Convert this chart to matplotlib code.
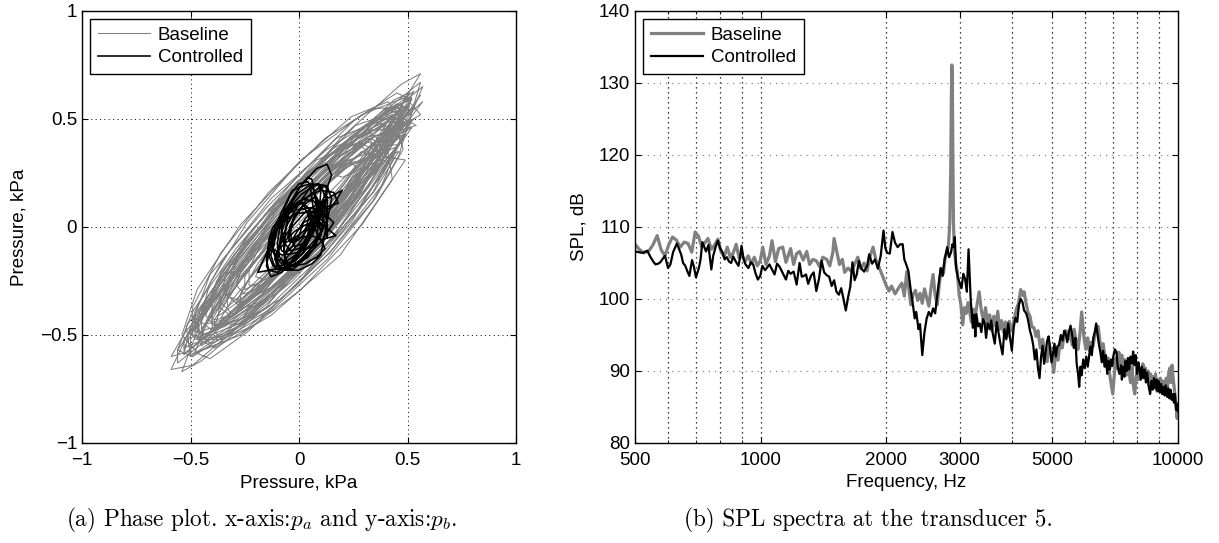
import matplotlib
matplotlib.use("Agg")
import matplotlib.pyplot as plt
from matplotlib.ticker import FixedLocator, FixedFormatter, NullFormatter

# ---------------- data: phase plot (kPa) ----------------
base_pa = [
 0.42, 0.35, 0.12, -0.14, -0.33, -0.43, -0.35, -0.12, 0.14, 0.33,
 0.50, 0.32, 0.01, -0.28, -0.47, -0.45, -0.26, 0.03, 0.30, 0.49,
 0.34, 0.28, 0.08, -0.12, -0.32, -0.37, -0.30, -0.14, 0.10, 0.26,
 0.53, 0.31, 0.01, -0.33, -0.51, -0.53, -0.31, -0.01, 0.33, 0.51,
 0.31, 0.25, 0.10, -0.08, -0.23, -0.29, -0.23, -0.08, 0.10, 0.25,
 0.46, 0.26, -0.02, -0.30, -0.48, -0.46, -0.28, 0.00, 0.28, 0.44,
 0.54, 0.45, 0.17, -0.15, -0.41, -0.51, -0.39, -0.13, 0.19, 0.43,
 0.39, 0.23, 0.01, -0.25, -0.37, -0.39, -0.23, -0.01, 0.25, 0.37,
 0.56, 0.47, 0.19, -0.17, -0.45, -0.54, -0.45, -0.15, 0.17, 0.47,
 0.42, 0.24, -0.03, -0.28, -0.46, -0.44, -0.30, -0.01, 0.26, 0.40,
 0.34, 0.28, 0.11, -0.11, -0.28, -0.34, -0.28, -0.11, 0.11, 0.28,
 0.51, 0.30, 0.03, -0.28, -0.47, -0.45, -0.26, 0.01, 0.32, 0.49,
 0.43, 0.35, 0.13, -0.15, -0.37, -0.45, -0.37, -0.15, 0.13, 0.35,
 0.52, 0.33, -0.01, -0.31, -0.52, -0.50, -0.33, 0.01, 0.31, 0.52,
 0.39, 0.32, 0.13, -0.11, -0.30, -0.37, -0.30, -0.11, 0.13, 0.32,
 0.51, 0.41, 0.13, -0.21, -0.49, -0.59, -0.49, -0.21, 0.13, 0.41,
 0.25, 0.15, 0.00, -0.15, -0.25, -0.25, -0.15, 0.00, 0.15, 0.25,
 0.47, 0.38, 0.15, -0.13, -0.36, -0.45, -0.36, -0.13, 0.15, 0.38,
 0.57, 0.36, 0.02, -0.32, -0.53, -0.53, -0.32, 0.02, 0.36, 0.57,
 0.40, 0.32, 0.12, -0.12, -0.32, -0.40, -0.32, -0.12, 0.12, 0.32,
 0.48, 0.42, 0.24, 0.00, -0.24, -0.42, -0.48, -0.42, -0.24, 0.00, 0.24, 0.42,
 0.33, 0.23, 0.07, -0.11, -0.27, -0.37, -0.37, -0.27, -0.11, 0.07, 0.23, 0.33,
 0.56, 0.49, 0.29, 0.01, -0.27, -0.47, -0.54, -0.47, -0.27, 0.01, 0.29, 0.49,
 0.31, 0.23, 0.10, -0.06, -0.19, -0.27, -0.27, -0.19, -0.06, 0.10, 0.23, 0.31,
 0.51, 0.44, 0.25, -0.01, -0.27, -0.46, -0.53, -0.46, -0.27, -0.01, 0.25, 0.44,
 0.46, 0.34, 0.14, -0.08, -0.28, -0.40, -0.40, -0.28, -0.08, 0.14, 0.34, 0.46,
 0.56, 0.41, 0.15, -0.15, -0.41, -0.56, -0.56, -0.41, -0.15, 0.15, 0.41, 0.56,
 0.37, 0.32, 0.17, -0.03, -0.23, -0.38, -0.43, -0.38, -0.23, -0.03, 0.17, 0.32,
 0.52, 0.45, 0.27, 0.02, -0.23, -0.41, -0.48, -0.41, -0.23, 0.02, 0.27, 0.45,
 0.23, 0.17, 0.06, -0.06, -0.17, -0.23, -0.23, -0.17, -0.06, 0.06, 0.17, 0.23,
 0.43, 0.32, 0.11, -0.13, -0.34, -0.45, -0.45, -0.34, -0.13, 0.11, 0.32, 0.43,
 0.53, 0.46, 0.25, -0.03, -0.31, -0.52, -0.59, -0.52, -0.31, -0.03, 0.25, 0.46,
 0.35, 0.30, 0.18, 0.01, -0.16, -0.28, -0.33, -0.28, -0.16, 0.01, 0.18, 0.30,
 0.48, 0.35, 0.13, -0.13, -0.35, -0.48, -0.48, -0.35, -0.13, 0.13, 0.35, 0.48,
 0.43, 0.32, 0.13, -0.09, -0.28, -0.39, -0.39, -0.28, -0.09, 0.13, 0.32, 0.43,
 0.27, 0.23, 0.13, -0.01, -0.15, -0.25, -0.29, -0.25, -0.15, -0.01, 0.13, 0.23,
 0.52, 0.39, 0.15, -0.13, -0.37, -0.50, -0.50, -0.37, -0.13, 0.15, 0.39, 0.52,
 0.40, 0.35, 0.21, 0.02, -0.17, -0.31, -0.36, -0.31, -0.17, 0.02, 0.21, 0.35,
 0.47, 0.41, 0.24, 0.00, -0.24, -0.41, -0.47, -0.41, -0.24, 0.00, 0.24, 0.41,
 0.29, 0.21, 0.06, -0.10, -0.25, -0.33, -0.33, -0.25, -0.10, 0.06, 0.21, 0.29,
 0.52, 0.45, 0.25, -0.02, -0.29, -0.49, -0.56, -0.49, -0.29, -0.02, 0.25, 0.45,
 0.46, 0.35, 0.15, -0.09, -0.29, -0.40, -0.40, -0.29, -0.09, 0.15, 0.35, 0.46,
 0.20, 0.17, 0.10, 0.00, -0.10, -0.17, -0.20, -0.17, -0.10, 0.00, 0.10, 0.17,
 0.47, 0.34, 0.12, -0.14, -0.36, -0.49, -0.49, -0.36, -0.14, 0.12, 0.34, 0.47,
]
base_pb = [
 0.45, 0.42, 0.26, -0.03, -0.29, -0.45, -0.43, -0.24, 0.03, 0.30,
 0.56, 0.45, 0.20, -0.15, -0.41, -0.54, -0.45, -0.16, 0.17, 0.43,
 0.36, 0.39, 0.31, 0.07, -0.17, -0.34, -0.41, -0.29, -0.09, 0.17,
 0.63, 0.45, 0.14, -0.26, -0.50, -0.59, -0.41, -0.10, 0.30, 0.54,
 0.31, 0.30, 0.17, -0.04, -0.24, -0.35, -0.34, -0.21, 0.00, 0.20,
 0.54, 0.47, 0.18, -0.13, -0.42, -0.52, -0.45, -0.18, 0.15, 0.44,
 0.47, 0.52, 0.41, 0.09, -0.22, -0.49, -0.56, -0.41, -0.13, 0.22,
 0.47, 0.32, 0.09, -0.21, -0.40, -0.47, -0.32, -0.07, 0.21, 0.40,
 0.71, 0.66, 0.41, -0.03, -0.43, -0.67, -0.62, -0.37, 0.05, 0.47,
 0.49, 0.39, 0.17, -0.16, -0.39, -0.51, -0.41, -0.19, 0.14, 0.37,
 0.33, 0.38, 0.29, 0.09, -0.14, -0.31, -0.36, -0.27, -0.07, 0.16,
 0.57, 0.40, 0.11, -0.24, -0.51, -0.55, -0.42, -0.09, 0.26, 0.49,
 0.44, 0.42, 0.24, -0.04, -0.32, -0.48, -0.46, -0.28, 0.00, 0.28,
 0.60, 0.48, 0.21, -0.17, -0.46, -0.60, -0.48, -0.19, 0.17, 0.46,
 0.39, 0.44, 0.33, 0.10, -0.17, -0.37, -0.42, -0.31, -0.08, 0.19,
 0.56, 0.54, 0.29, -0.08, -0.45, -0.66, -0.64, -0.40, -0.02, 0.35,
 0.29, 0.24, 0.10, -0.08, -0.23, -0.29, -0.24, -0.10, 0.08, 0.23,
 0.42, 0.48, 0.36, 0.09, -0.21, -0.44, -0.51, -0.38, -0.11, 0.19,
 0.65, 0.48, 0.14, -0.24, -0.52, -0.59, -0.42, -0.08, 0.30, 0.58,
 0.43, 0.42, 0.24, -0.02, -0.28, -0.43, -0.42, -0.24, 0.02, 0.28,
 0.52, 0.54, 0.42, 0.20, -0.07, -0.32, -0.48, -0.50, -0.38, -0.16, 0.11, 0.36,
 0.41, 0.34, 0.18, -0.04, -0.24, -0.38, -0.41, -0.34, -0.18, 0.04, 0.24, 0.38,
 0.52, 0.60, 0.52, 0.31, 0.01, -0.29, -0.50, -0.58, -0.50, -0.29, 0.01, 0.31,
 0.34, 0.31, 0.19, 0.01, -0.17, -0.31, -0.38, -0.35, -0.23, -0.05, 0.13, 0.28,
 0.62, 0.59, 0.41, 0.13, -0.17, -0.43, -0.56, -0.53, -0.35, -0.07, 0.23, 0.49,
 0.45, 0.45, 0.33, 0.12, -0.12, -0.33, -0.45, -0.45, -0.33, -0.12, 0.12, 0.33,
 0.67, 0.55, 0.30, -0.04, -0.35, -0.57, -0.63, -0.51, -0.26, 0.08, 0.39, 0.61,
 0.35, 0.41, 0.35, 0.19, -0.03, -0.25, -0.41, -0.47, -0.41, -0.25, -0.03, 0.19,
 0.54, 0.57, 0.44, 0.19, -0.12, -0.41, -0.58, -0.61, -0.48, -0.23, 0.08, 0.37,
 0.29, 0.29, 0.21, 0.08, -0.07, -0.19, -0.27, -0.27, -0.19, -0.07, 0.08, 0.21,
 0.52, 0.48, 0.31, 0.05, -0.21, -0.41, -0.50, -0.46, -0.29, -0.04, 0.23, 0.43,
 0.50, 0.48, 0.31, 0.05, -0.24, -0.48, -0.60, -0.58, -0.41, -0.15, 0.14, 0.38,
 0.38, 0.40, 0.32, 0.16, -0.03, -0.21, -0.32, -0.34, -0.26, -0.10, 0.10, 0.27,
 0.50, 0.50, 0.36, 0.13, -0.15, -0.39, -0.52, -0.52, -0.39, -0.15, 0.13, 0.36,
 0.51, 0.43, 0.23, -0.02, -0.26, -0.43, -0.47, -0.39, -0.19, 0.06, 0.31, 0.47,
 0.27, 0.31, 0.27, 0.15, 0.00, -0.15, -0.27, -0.31, -0.27, -0.15, 0.00, 0.15,
 0.59, 0.54, 0.34, 0.05, -0.25, -0.49, -0.59, -0.54, -0.34, -0.05, 0.25, 0.49,
 0.36, 0.35, 0.23, 0.04, -0.17, -0.34, -0.42, -0.41, -0.29, -0.10, 0.11, 0.28,
 0.51, 0.58, 0.51, 0.30, 0.02, -0.26, -0.47, -0.54, -0.47, -0.26, 0.02, 0.30,
 0.35, 0.28, 0.14, -0.04, -0.22, -0.33, -0.37, -0.30, -0.16, 0.02, 0.20, 0.31,
 0.59, 0.62, 0.49, 0.22, -0.10, -0.39, -0.57, -0.60, -0.47, -0.20, 0.12, 0.41,
 0.43, 0.39, 0.24, 0.02, -0.21, -0.39, -0.47, -0.43, -0.28, -0.06, 0.17, 0.35,
 0.23, 0.24, 0.18, 0.08, -0.04, -0.15, -0.23, -0.24, -0.18, -0.08, 0.04, 0.15,
 0.55, 0.55, 0.41, 0.16, -0.12, -0.37, -0.51, -0.51, -0.37, -0.12, 0.16, 0.41,
]
ctrl_pa = [
 0.12, 0.10, 0.06, 0.00, -0.06, -0.10, -0.12, -0.10, -0.06, 0.00, 0.06, 0.10,
 0.06, 0.05, 0.02, -0.02, -0.06, -0.09, -0.10, -0.09, -0.06, -0.02, 0.02, 0.05,
 0.15, 0.13, 0.08, 0.00, -0.08, -0.13, -0.15, -0.13, -0.08, 0.00, 0.08, 0.13,
 0.13, 0.12, 0.08, 0.03, -0.02, -0.06, -0.07, -0.06, -0.02, 0.03, 0.08, 0.12,
 0.03, 0.02, 0.00, -0.03, -0.06, -0.08, -0.09, -0.08, -0.06, -0.03, 0.00, 0.02,
 0.15, 0.20, 0.09, 0.02, -0.05, -0.09, -0.11, -0.09, -0.05, 0.02, 0.09, 0.13,
 0.06, 0.05, 0.02, -0.03, -0.08, -0.11, -0.12, -0.11, -0.08, -0.03, 0.02, 0.05,
 0.17, 0.10, 0.06, 0.00, -0.06, -0.10, -0.11, -0.10, -0.06, 0.00, 0.06, 0.10,
 0.15, 0.13, 0.08, 0.01, -0.06, -0.11, -0.13, -0.11, -0.06, 0.01, 0.08, 0.13,
 0.09, 0.08, 0.06, 0.02, -0.02, -0.04, -0.05, -0.04, -0.02, 0.02, 0.06, 0.08,
 0.10, 0.08, 0.04, -0.02, -0.08, -0.12, -0.14, -0.19, -0.08, -0.02, 0.04, 0.08,
 0.10, 0.09, 0.05, 0.00, -0.05, -0.09, -0.10, -0.09, -0.05, 0.00, 0.05, 0.09,
 0.18, 0.16, 0.10, 0.02, -0.06, -0.12, -0.14, -0.12, -0.06, 0.02, 0.10, 0.16,
 0.08, 0.07, 0.04, 0.00, -0.04, -0.07, -0.08, -0.07, -0.04, 0.00, 0.04, 0.07,
 0.13, 0.12, 0.08, 0.03, -0.02, -0.06, -0.07, -0.06, -0.02, 0.03, 0.08, 0.12,
 0.07, 0.06, 0.04, 0.00, -0.04, -0.06, -0.07, -0.06, -0.04, 0.00, 0.04, 0.06,
 0.12, 0.10, 0.06, -0.01, -0.08, -0.12, -0.14, -0.12, -0.08, -0.01, 0.06, 0.10,
 0.13, 0.12, 0.09, 0.04, 0.00, -0.04, -0.05, -0.04, 0.00, 0.04, 0.09, 0.12,
 0.07, 0.06, 0.02, -0.04, -0.10, -0.14, -0.15, -0.14, -0.10, -0.04, 0.02, 0.06,
 0.06, 0.05, 0.04, 0.01, -0.02, -0.03, -0.04, -0.03, -0.02, 0.01, 0.04, 0.05,
]
ctrl_pb = [
 0.14, 0.19, 0.20, 0.16, 0.08, -0.01, -0.10, -0.15, -0.16, -0.12, -0.04, 0.05,
 0.02, 0.08, 0.11, 0.10, 0.06, -0.01, -0.08, -0.14, -0.17, -0.16, -0.12, -0.05,
 0.24, 0.29, 0.27, 0.18, 0.05, -0.08, -0.18, -0.23, -0.21, -0.12, 0.01, 0.14,
 -0.05, 0.00, 0.02, 0.01, -0.02, -0.06, -0.11, -0.16, -0.18, -0.17, -0.14, -0.10,
 0.08, 0.11, 0.12, 0.09, 0.04, -0.02, -0.08, -0.11, -0.12, -0.09, -0.04, 0.02,
 0.09, 0.17, 0.11, 0.06, -0.02, -0.09, -0.15, -0.18, -0.17, -0.12, -0.04, 0.03,
 0.13, 0.20, 0.19, 0.17, 0.07, 0.00, -0.11, -0.14, -0.17, -0.11, -0.05, 0.06,
 -0.04, -0.06, -0.04, -0.05, -0.07, -0.11, -0.15, -0.18, -0.20, -0.20, -0.17, -0.13,
 0.13, 0.19, 0.20, 0.15, 0.07, -0.03, -0.13, -0.19, -0.20, -0.15, -0.07, 0.03,
 0.12, 0.14, 0.13, 0.10, 0.05, 0.00, -0.04, -0.06, -0.05, -0.02, 0.03, 0.08,
 -0.02, 0.04, 0.07, 0.06, 0.02, -0.04, -0.10, -0.21, -0.19, -0.18, -0.14, -0.08,
 0.16, 0.20, 0.18, 0.11, 0.02, -0.08, -0.16, -0.20, -0.18, -0.11, -0.02, 0.08,
 0.11, 0.16, 0.17, 0.13, 0.05, -0.04, -0.13, -0.18, -0.19, -0.15, -0.07, 0.02,
 0.10, 0.17, 0.21, 0.20, 0.15, 0.08, -0.01, -0.07, -0.11, -0.10, -0.05, 0.02,
 0.07, 0.10, 0.09, 0.04, -0.04, -0.11, -0.17, -0.20, -0.19, -0.14, -0.06, 0.01,
 0.16, 0.22, 0.23, 0.18, 0.10, 0.00, -0.10, -0.16, -0.17, -0.12, -0.04, 0.07,
 0.02, 0.06, 0.09, 0.08, 0.05, 0.00, -0.06, -0.10, -0.13, -0.12, -0.09, -0.04,
 0.17, 0.19, 0.18, 0.14, 0.07, 0.01, -0.05, -0.07, -0.06, -0.01, 0.05, 0.12,
 0.07, 0.12, 0.13, 0.09, 0.02, -0.07, -0.15, -0.20, -0.21, -0.17, -0.10, -0.01,
 0.03, 0.07, 0.09, 0.08, 0.06, 0.02, -0.03, -0.07, -0.09, -0.08, -0.06, -0.02,
]

# ---------------- data: SPL spectra ----------------
base_f = [
 500, 512, 525, 540, 552, 565, 578, 590, 603, 615, 628, 642, 656, 670, 684, 697,
 710, 722, 735, 748, 762, 776, 790, 804, 818, 832, 846, 860, 874, 888, 902, 918,
 934, 950, 966, 982, 998, 1012, 1030, 1050, 1065, 1085, 1105, 1130, 1150, 1180,
 1200, 1220, 1240, 1265, 1290, 1310, 1335, 1360, 1385, 1410, 1440, 1465, 1490,
 1500, 1520, 1545, 1570, 1590, 1620, 1650, 1680, 1710, 1740, 1770, 1800, 1830,
 1860, 1890, 1920, 1960, 1995, 2030, 2060, 2100, 2140, 2180, 2210, 2240, 2270,
 2290, 2320, 2350, 2380, 2410, 2440, 2470, 2500, 2530, 2560, 2590, 2620, 2650,
 2680, 2710, 2740, 2770, 2800, 2820, 2840, 2855, 2865, 2872, 2880, 2888, 2898,
 2910, 2935, 2960, 2990, 3020, 3050, 3080, 3110, 3140, 3170, 3200, 3230, 3260,
 3300, 3340, 3380, 3420, 3460, 3500, 3540, 3580, 3620, 3660, 3700, 3740, 3780,
 3820, 3860, 3900, 3940, 3980, 4020, 4060, 4100, 4150, 4200, 4240, 4280, 4320,
 4370, 4420, 4470, 4520, 4570, 4620, 4680, 4740, 4800, 4860, 4920, 4980, 5040,
 5100, 5160, 5220, 5280, 5340, 5400, 5460, 5520, 5580, 5640, 5700, 5760, 5820,
 5880, 5920, 5960, 6020, 6080, 6140, 6200, 6260, 6320, 6380, 6440, 6500, 6560,
 6620, 6680, 6740, 6800, 6860, 6920, 6980, 7040, 7100, 7160, 7220, 7280, 7340,
 7400, 7460, 7520, 7580, 7640, 7700, 7760, 7820, 7880, 7940, 8000, 8060, 8120,
 8180, 8240, 8300, 8360, 8420, 8480, 8540, 8600, 8660, 8720, 8780, 8840, 8900,
 8960, 9020, 9080, 9140, 9200, 9260, 9320, 9380, 9440, 9500, 9560, 9620, 9680,
 9740, 9800, 9860, 9920, 9960, 10000,
]
base_spl = [
 107.6, 106.9, 106.4, 106.7, 107.5, 108.8, 106.8, 106.0, 107.6, 108.6, 108.2, 107.2, 107.9, 107.7, 106.5, 109.3,
 108.7, 107.3, 107.8, 108.4, 106.9, 107.5, 108.3, 106.6, 105.9, 107.2, 105.8, 106.4, 107.6, 105.7, 106.1, 105.2,
 106.0, 104.9, 105.8, 104.6, 105.3, 107.2, 104.8, 106.0, 108.1, 105.2, 107.0, 107.2, 105.1, 107.0,
 104.8, 106.3, 106.6, 105.4, 106.6, 104.8, 105.5, 105.3, 104.5, 105.8, 105.5, 104.6, 106.5,
 108.4, 106.8, 104.8, 105.5, 103.7, 104.3, 103.8, 104.8, 105.8, 104.2, 105.0, 103.9, 106.0,
 107.2, 105.4, 104.5, 103.2, 102.0, 101.1, 101.8, 100.7, 101.5, 102.2, 100.4, 103.8, 101.0,
 99.2, 100.6, 101.2, 99.8, 100.8, 99.4, 101.4, 100.2, 99.0, 101.5, 103.4, 100.5, 99.2,
 102.0, 104.2, 103.5, 105.8, 106.4, 107.6, 110.5, 118.0, 128.0, 132.5, 131.0, 121.0, 111.0,
 107.0, 105.0, 103.8, 100.6, 99.2, 96.4, 98.8, 98.0, 99.5, 98.2, 96.8, 98.6, 97.3,
 99.2, 101.0, 98.4, 97.0, 98.8, 96.4, 97.8, 95.6, 97.6, 96.2, 98.3, 95.8, 97.0,
 95.4, 96.8, 94.8, 96.9, 95.6, 96.2, 97.4, 98.6, 99.4, 101.3, 100.5, 101.0, 99.6,
 98.2, 97.6, 96.1, 96.0, 94.8, 95.6, 93.2, 94.4, 92.5, 91.3, 93.8, 92.0, 89.8,
 92.8, 91.5, 94.0, 93.2, 95.0, 95.6, 94.4, 95.2, 93.6, 95.8, 94.2, 93.0, 95.0,
 98.2, 96.4, 94.5, 93.0, 94.6, 92.8, 94.0, 93.4, 95.0, 95.6, 96.2, 94.2, 92.6,
 93.8, 92.0, 90.6, 91.8, 89.6, 88.2, 86.8, 89.5, 91.8, 90.4, 92.6, 91.0, 92.2,
 90.2, 91.6, 89.4, 91.0, 89.8, 88.4, 90.6, 88.0, 86.8, 89.0, 90.6, 88.8, 90.2,
 89.2, 91.0, 89.4, 90.4, 88.6, 90.0, 88.2, 89.6, 87.8, 89.2, 88.0, 89.6, 87.2,
 88.8, 87.6, 89.0, 87.4, 88.6, 87.0, 88.2, 89.0, 87.6, 89.6, 90.4, 88.4, 90.8,
 89.0, 87.6, 86.0, 84.6, 83.4, 85.5,
]
ctrl_f = [
 500, 510, 522, 535, 545, 553, 560, 568, 575, 583, 590, 600, 608, 617, 630, 638,
 645, 652, 660, 668, 675, 685, 692, 700, 705, 712, 718, 725, 733, 740, 750, 755,
 762, 770, 780, 790, 800, 810, 820, 830, 840, 850, 860, 872, 885, 893, 900, 910,
 920, 935, 948, 960, 972, 985, 998, 1010, 1025, 1050, 1065, 1080, 1095, 1110,
 1130, 1150, 1165, 1180, 1200, 1220, 1240, 1255, 1270, 1285, 1300, 1320, 1340,
 1360, 1380, 1400, 1420, 1440, 1460, 1480, 1500, 1520, 1540, 1560, 1580, 1600,
 1620, 1640, 1660, 1680, 1700, 1720, 1740, 1770, 1800, 1820, 1850, 1880, 1910,
 1940, 1970, 1990, 2010, 2040, 2070, 2100, 2130, 2160, 2190, 2210, 2230, 2260,
 2290, 2320, 2340, 2360, 2390, 2410, 2440, 2470, 2500, 2530, 2560, 2590, 2620,
 2650, 2680, 2700, 2730, 2760, 2800, 2830, 2860, 2880, 2900, 2920, 2940, 2970,
 3000, 3030, 3060, 3090, 3120, 3150, 3170, 3190, 3210, 3225, 3250, 3270, 3290,
 3320, 3350, 3380, 3410, 3440, 3470, 3500, 3540, 3570, 3600, 3640, 3680, 3720,
 3760, 3800, 3840, 3880, 3920, 3960, 4000, 4040, 4080, 4120, 4160, 4200, 4240,
 4280, 4330, 4370, 4420, 4460, 4500, 4540, 4580, 4620, 4660, 4700, 4740, 4780,
 4820, 4860, 4900, 4940, 4980, 5020, 5060, 5100, 5140, 5190, 5240, 5290, 5340,
 5380, 5430, 5480, 5530, 5580, 5630, 5680, 5720, 5760, 5800, 5840, 5880, 5930,
 5980, 6030, 6080, 6120, 6170, 6220, 6270, 6320, 6370, 6420, 6470, 6520, 6570,
 6620, 6670, 6720, 6770, 6820, 6870, 6920, 6960, 7000, 7060, 7120, 7180, 7240,
 7300, 7340, 7390, 7440, 7490, 7540, 7590, 7640, 7700, 7760, 7810, 7860, 7920,
 7980, 8040, 8090, 8150, 8200, 8260, 8320, 8380, 8440, 8500, 8580, 8640, 8700,
 8760, 8820, 8880, 8940, 8990, 9050, 9110, 9170, 9230, 9290, 9350, 9420, 9480,
 9540, 9600, 9660, 9720, 9780, 9840, 9900, 9950, 10000,
]
ctrl_spl = [
 106.6, 106.5, 106.4, 106.7, 105.8, 105.2, 104.8, 104.9, 105.1, 105.6, 106.0, 104.3, 104.8, 106.5, 107.7, 106.9,
 106.2, 105.0, 104.6, 103.8, 103.2, 105.4, 104.5, 103.0, 103.6, 104.4, 105.5, 107.9, 107.2, 106.6, 107.5, 106.0,
 104.1, 106.0, 107.2, 108.1, 107.0, 106.5, 105.5, 105.8, 105.2, 105.0, 105.9, 105.2, 104.6, 105.8, 107.4, 105.6,
 104.8, 104.3, 105.1, 104.8, 103.6, 102.7, 103.2, 104.6, 104.0, 104.8, 104.1, 103.4, 104.9, 104.5,
 103.6, 102.7, 103.9, 103.5, 103.8, 102.0, 105.0, 103.1, 103.2, 103.4, 102.1, 103.2, 103.7,
 101.1, 102.8, 105.3, 103.7, 103.3, 103.1, 101.8, 102.6, 101.0, 100.6, 101.5, 100.0, 98.4,
 100.2, 101.7, 105.1, 102.6, 103.4, 105.3, 104.3, 103.8, 104.6, 106.2, 104.9, 105.5, 104.2,
 106.0, 109.5, 107.1, 106.4, 106.3, 109.3, 107.8, 107.2, 107.6, 107.6, 105.5, 104.9, 103.9,
 101.2, 99.0, 97.3, 98.2, 95.8, 96.5, 92.2, 95.4, 97.3, 98.2, 97.6, 98.7, 98.0,
 100.5, 102.8, 104.3, 103.2, 105.5, 107.2, 105.8, 106.5, 107.6, 107.2, 108.6, 104.3, 103.0,
 102.2, 101.5, 103.5, 102.8, 101.0, 106.9, 103.0, 99.5, 97.8, 96.0, 97.8, 94.8, 97.9,
 96.2, 96.6, 95.4, 97.2, 96.8, 94.6, 96.6, 95.8, 97.0, 95.2, 93.8, 96.8, 95.2,
 93.6, 92.3, 95.8, 94.4, 96.6, 94.6, 92.8, 96.0, 97.4, 96.8, 99.2, 100.0, 99.6,
 98.4, 98.0, 97.2, 95.6, 94.8, 93.6, 91.6, 93.0, 90.4, 89.0, 92.0, 93.5, 91.0,
 92.6, 94.2, 94.8, 93.0, 91.2, 92.4, 93.8, 92.0, 93.4, 93.6, 95.0, 94.2, 95.6,
 95.2, 94.0, 95.4, 96.3, 95.0, 93.2, 94.6, 91.0, 89.8, 87.8, 90.6, 89.4, 91.6,
 90.4, 92.0, 90.6, 91.8, 93.4, 92.2, 94.6, 95.4, 96.6, 95.0, 93.6, 92.6, 91.2,
 92.8, 90.6, 92.2, 89.6, 91.4, 90.2, 91.6, 90.7, 92.0, 93.0, 92.7, 90.4, 89.6,
 90.8, 88.8, 90.6, 89.2, 91.4, 90.0, 91.8, 90.2, 92.0, 91.0, 92.7, 90.8, 92.2,
 89.6, 91.2, 90.4, 88.8, 90.6, 89.0, 90.2, 88.4, 89.8, 88.0, 86.8, 88.6, 87.4,
 89.0, 87.6, 88.8, 87.2, 88.6, 87.0, 88.2, 86.8, 87.8, 86.6, 88.0, 86.4, 87.6,
 86.2, 87.4, 86.0, 86.8, 85.6, 86.8, 84.6, 85.4, 84.4,
]

phase_ticks = [-1, -0.5, 0, 0.5, 1]
phase_labels = ["\u22121", "\u22120.5", "0", "0.5", "1"]
freq_ticks = [500, 1000, 2000, 3000, 5000, 10000]
freq_labels = ["500", "1000", "2000", "3000", "5000", "10000"]
freq_grid = [600, 700, 800, 900, 1000, 2000, 3000, 4000, 5000, 6000, 7000, 8000, 9000]
spl_ticks = [80, 90, 100, 110, 120, 130, 140]

# ---------------- style ----------------
plt.rcParams['font.family'] = ['Liberation Sans', 'DejaVu Sans']
plt.rcParams['mathtext.fontset'] = 'cm'
FS = 13.5
GRAY = '#808080'

fig = plt.figure(figsize=(12.19, 5.43), dpi=100)
ax1 = fig.add_axes([0.0673, 0.1842, 0.356, 0.7956])
ax2 = fig.add_axes([0.5209, 0.1842, 0.4454, 0.7956])

# ---- left: phase plot ----
ax1.plot(base_pa, base_pb, color=GRAY, lw=0.75, label='Baseline')
ax1.plot(ctrl_pa, ctrl_pb, color='black', lw=1.15, label='Controlled')
ax1.set_xlim(-1, 1)
ax1.set_ylim(-1, 1)
ax1.xaxis.set_major_locator(FixedLocator(phase_ticks))
ax1.xaxis.set_major_formatter(FixedFormatter(phase_labels))
ax1.yaxis.set_major_locator(FixedLocator(phase_ticks))
ax1.yaxis.set_major_formatter(FixedFormatter(phase_labels))
ax1.grid(True, which='major', color='black', linestyle=(0, (1, 3.5)), lw=0.7)
ax1.set_xlabel('Pressure, kPa', fontsize=FS)
ax1.set_ylabel('Pressure, kPa', fontsize=FS)
ax1.xaxis.set_label_coords(0.5, -0.072)
ax1.yaxis.set_label_coords(-0.126, 0.5)

# ---- right: spectra ----
ax2.plot(base_f, base_spl, color=GRAY, lw=2.3, label='Baseline')
ax2.plot(ctrl_f, ctrl_spl, color='black', lw=1.6, label='Controlled')
ax2.set_xscale('log')
ax2.set_xlim(500, 10000)
ax2.set_ylim(80, 140)
ax2.xaxis.set_major_locator(FixedLocator(freq_ticks))
ax2.xaxis.set_major_formatter(FixedFormatter(freq_labels))
ax2.xaxis.set_minor_locator(FixedLocator(freq_grid))
ax2.xaxis.set_minor_formatter(NullFormatter())
ax2.yaxis.set_major_locator(FixedLocator(spl_ticks))
for fg in freq_grid:
    ax2.axvline(fg, color='black', linestyle=(0, (1, 3)), lw=0.9, zorder=0.5)
for sv in spl_ticks[1:-1]:
    ax2.axhline(sv, color='#777777', linestyle=(0, (1, 4.5)), lw=0.8, zorder=0.5)
ax2.set_xlabel('Frequency, Hz', fontsize=FS)
ax2.set_ylabel('SPL, dB', fontsize=FS)
ax2.xaxis.set_label_coords(0.5, -0.072)
ax2.yaxis.set_label_coords(-0.088, 0.5)

for ax in (ax1, ax2):
    ax.tick_params(which='major', direction='in', length=4.5, width=0.8,
                   top=True, right=True, labelsize=FS)
    ax.tick_params(which='minor', direction='in', length=2.5, width=0.6,
                   top=True, right=True)
    ax.tick_params(axis='x', which='major', pad=6.5)
    ax.tick_params(axis='y', which='major', pad=3.5)
    for s in ax.spines.values():
        s.set_linewidth(1.0)
        s.set_color('black')
    ax.set_axisbelow(True)
    leg = ax.legend(loc='upper left', fontsize=FS, frameon=True, fancybox=False,
                    framealpha=1, edgecolor='black', borderpad=0.4,
                    labelspacing=0.28, handlelength=2.8, handletextpad=0.4,
                    borderaxespad=0.45)
    leg.get_frame().set_linewidth(1.0)

# ---- captions ----
cap_kw = dict(ha='center', va='center', fontsize=16.7, family='cmr10')
fig.text(0.2145, 0.042, r'(a) Phase plot. x-axis:$p_a$ and y-axis:$p_b$.', **cap_kw)
fig.text(0.712, 0.042, '(b) SPL spectra at the transducer 5.', **cap_kw)

fig.savefig('out.png', dpi=100)
